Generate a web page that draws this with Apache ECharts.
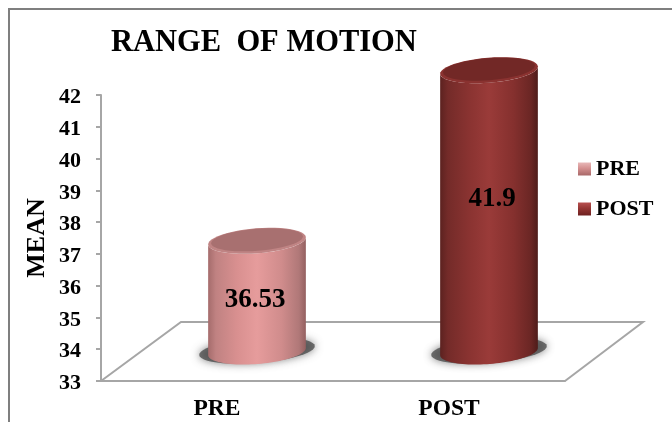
<!DOCTYPE html>
<html>
<head>
<meta charset="utf-8">
<style>html,body{margin:0;padding:0;background:#fff}#chart{width:672px;height:422px}</style>
<script src="https://cdn.jsdelivr.net/npm/echarts@6/dist/echarts.min.js"></script>
</head>
<body>
<div id="chart"></div>
<script>
// Mean range of motion before and after
const categories = ['PRE', 'POST'];
const preValues = [36.53];
const postValues = [41.9];
const yTicks = { min: 33, max: 42, interval: 1 };

// Oblique projection of the floor and the cylinders
const DEPTH_X = 80, DEPTH_Y = -59;
const RX = 49, RY = 12.5, TILT = 4.5 * Math.PI / 180;
const SERIF = '"Liberation Serif", "Times New Roman", serif';

function ellipse(cx, cy, rx, ry, from, to) {
  const pts = [];
  const n = 48;
  for (let i = 0; i <= n; i++) {
    const t = from + (to - from) * i / n;
    const ex = rx * Math.cos(t), ey = ry * Math.sin(t);
    pts.push([cx + ex * Math.cos(TILT) + ey * Math.sin(TILT),
              cy - ex * Math.sin(TILT) + ey * Math.cos(TILT)]);
  }
  return pts;
}

function sideGradient(colors) {
  const offsets = [0, 0.08, 0.3, 0.5, 0.75, 0.93, 1];
  return {
    type: 'linear', x: 0, y: 0, x2: 1, y2: 0,
    colorStops: colors.map((color, i) => ({ offset: offsets[i], color }))
  };
}

function cylinder(look, labelShift) {
  return function (params, api) {
    const cat = api.value(0), val = api.value(1);
    const top = api.coord([cat, val]);
    const base = api.coord([cat, yTicks.min]);
    const cx = top[0] + DEPTH_X / 2;
    const topY = top[1] + DEPTH_Y / 2 + 1.5;
    const baseY = base[1] + DEPTH_Y / 2;
    const body = ellipse(cx, baseY, RX, RY, 0, Math.PI)
      .concat(ellipse(cx, topY, RX, RY, Math.PI, 0));
    return {
      type: 'group',
      children: [
        { type: 'polygon',
          shape: { points: ellipse(cx, baseY - 1, RX + 9, RY, 0, Math.PI * 2) },
          style: { fill: 'rgba(70,70,70,0.75)', shadowBlur: 8, shadowColor: 'rgba(70,70,70,0.9)' } },
        { type: 'polygon', shape: { points: body },
          style: { fill: sideGradient(look.side) } },
        { type: 'polygon', shape: { points: ellipse(cx, topY, RX, RY, 0, Math.PI * 2) },
          style: { fill: look.rim } },
        { type: 'polygon', shape: { points: ellipse(cx, topY - 1, RX - 3, RY - 1.5, 0, Math.PI * 2) },
          style: { fill: look.cap } },
        { type: 'text', x: cx + labelShift[0], y: (topY + baseY) / 2 + labelShift[1],
          style: { text: String(val), fill: '#000', font: 'bold 27px ' + SERIF, align: 'center', verticalAlign: 'middle' } }
      ]
    };
  };
}

function floor(params) {
  const g = params.coordSys;
  const l = g.x, b = g.y + g.height, r = g.x + g.width;
  return {
    type: 'polyline',
    shape: { points: [[l, b], [l + DEPTH_X, b + DEPTH_Y], [r + DEPTH_X - 2, b + DEPTH_Y], [r, b]] },
    style: { fill: 'none', stroke: '#A6A6A6', lineWidth: 2 }
  };
}

const legendFill = (a, b, c) => ({
  type: 'linear', x: 0, y: 0, x2: 0, y2: 1,
  colorStops: [{ offset: 0, color: a }, { offset: 0.45, color: b }, { offset: 1, color: c }]
});

const chart = echarts.init(document.getElementById('chart'), null, { renderer: 'canvas' });
chart.setOption({
  animation: false,
  backgroundColor: '#fff',
  title: {
    text: 'RANGE  OF MOTION', left: 111, top: 28, padding: 0,
    textStyle: { fontFamily: SERIF, fontWeight: 'bold', fontSize: 30.5, color: '#000' }
  },
  legend: {
    orient: 'vertical', left: 578, top: 158, padding: 0, itemWidth: 13, itemHeight: 13, itemGap: 18,
    icon: 'rect', data: categories,
    textStyle: { fontFamily: SERIF, fontWeight: 'bold', fontSize: 22, color: '#000' }
  },
  grid: { left: 101, top: 95, width: 464, height: 286 },
  xAxis: {
    type: 'category', data: categories,
    axisLine: { lineStyle: { color: '#A6A6A6', width: 2 } },
    axisTick: { length: 5, lineStyle: { color: '#A6A6A6', width: 2 } },
    axisLabel: { margin: 16, fontFamily: SERIF, fontWeight: 'bold', fontSize: 23.5, color: '#000' }
  },
  yAxis: {
    type: 'value', min: yTicks.min, max: yTicks.max, interval: yTicks.interval,
    name: 'MEAN', nameLocation: 'middle', nameGap: 51, nameMoveOverlap: false,
    nameTextStyle: { fontFamily: SERIF, fontWeight: 'bold', fontSize: 26, color: '#000' },
    splitLine: { show: false },
    axisLine: { show: true, onZero: false, lineStyle: { color: '#A6A6A6', width: 2 } },
    axisTick: { show: true, length: 5, lineStyle: { color: '#A6A6A6', width: 2 } },
    axisLabel: {
      margin: 20, formatter: '{tick|{value}}',
      rich: { tick: { padding: [5, 0, 0, 0], fontFamily: SERIF, fontWeight: 'bold', fontSize: 22, color: '#000' } }
    }
  },
  graphic: [{
    type: 'polyline', silent: true,
    shape: { points: [[9, 422], [9, 9], [672, 9]] },
    style: { fill: 'none', stroke: '#7F7F7F', lineWidth: 2 }
  }],
  series: [
    { type: 'custom', name: 'floor', data: [[0, yTicks.min]], renderItem: floor, silent: true, z: 1 },
    {
      type: 'custom', name: 'PRE', z: 2,
      itemStyle: { color: legendFill('#E8B8B8', '#D49090', '#A86868') },
      encode: { x: 0, y: 1 },
      data: preValues.map(v => [0, v]),
      renderItem: cylinder({
        side: ['#A56C6C', '#C08282', '#D99090', '#E69C9C', '#D08C8C', '#B07878', '#946060'],
        rim: '#C08484', cap: '#A87070'
      }, [-2, 4])
    },
    {
      type: 'custom', name: 'POST', z: 2,
      itemStyle: { color: legendFill('#B85050', '#953634', '#6E2020') },
      encode: { x: 0, y: 1 },
      data: postValues.map(v => [1, v]),
      renderItem: cylinder({
        side: ['#5C2220', '#742B29', '#8A3331', '#9A3B39', '#85302E', '#6A2624', '#4E1C1A'],
        rim: '#8A3230', cap: '#722826'
      }, [3, -12])
    }
  ]
});
</script>
</body>
</html>
